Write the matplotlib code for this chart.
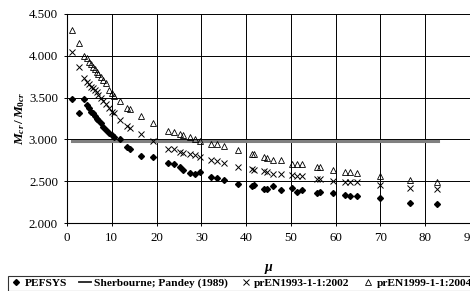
import matplotlib
matplotlib.use("Agg")
import matplotlib.pyplot as plt
from matplotlib.lines import Line2D

plt.rcParams['font.family'] = ['Liberation Serif', 'DejaVu Serif']
plt.rcParams['mathtext.fontset'] = 'custom'
plt.rcParams['mathtext.rm'] = 'Liberation Serif:bold'
plt.rcParams['mathtext.it'] = 'Liberation Serif:italic:bold'
plt.rcParams['mathtext.bf'] = 'Liberation Serif:bold'

mu = [1.1, 2.6, 3.7, 4.5, 5.0, 5.4, 5.8, 6.2, 6.6, 7.0, 7.5, 8.0, 8.6, 9.3, 10.0,
      10.5, 11.9, 13.4, 14.0, 16.5, 19.2, 22.6, 23.8, 25.3, 25.8, 27.5, 28.6, 29.7,
      32.1, 33.4, 35.1, 38.1, 41.3, 41.8, 43.9, 44.6, 46.1, 47.8, 50.2, 51.3, 52.4,
      55.8, 56.5, 59.5, 62.1, 63.2, 64.7, 69.9, 76.5, 82.7]

pefsys = [3.48, 3.31, 3.48, 3.41, 3.37, 3.33, 3.31, 3.28, 3.25, 3.23, 3.20, 3.15, 3.11,
          3.08, 3.05, 3.03, 3.00, 2.91, 2.89, 2.80, 2.79, 2.72, 2.71, 2.67, 2.63, 2.60,
          2.59, 2.61, 2.55, 2.54, 2.51, 2.47, 2.44, 2.45, 2.41, 2.41, 2.44, 2.39, 2.42,
          2.37, 2.39, 2.36, 2.37, 2.36, 2.33, 2.32, 2.32, 2.30, 2.24, 2.23]

en1993 = [4.04, 3.87, 3.73, 3.69, 3.66, 3.63, 3.61, 3.59, 3.57, 3.53, 3.49, 3.46, 3.42,
          3.38, 3.33, 3.31, 3.23, 3.16, 3.14, 3.06, 2.98, 2.89, 2.88, 2.85, 2.84, 2.83,
          2.81, 2.79, 2.75, 2.74, 2.72, 2.67, 2.64, 2.63, 2.62, 2.61, 2.59, 2.59, 2.57,
          2.56, 2.56, 2.53, 2.53, 2.50, 2.49, 2.49, 2.49, 2.46, 2.42, 2.41]

en1999 = [4.31, 4.15, 4.00, 3.97, 3.93, 3.90, 3.87, 3.84, 3.81, 3.78, 3.75, 3.71, 3.67,
          3.59, 3.55, 3.52, 3.46, 3.38, 3.36, 3.28, 3.20, 3.10, 3.09, 3.06, 3.05, 3.03,
          3.00, 2.98, 2.95, 2.94, 2.92, 2.87, 2.83, 2.82, 2.79, 2.78, 2.75, 2.75, 2.71,
          2.70, 2.70, 2.67, 2.67, 2.63, 2.61, 2.61, 2.60, 2.56, 2.52, 2.49]

sherb_mu = [1.1, 82.9]
sherb_val = [2.98, 2.98]

yticks = [2.0, 2.5, 3.0, 3.5, 4.0, 4.5]
ytick_labels = ['2.000', '2.500', '3.000', '3.500', '4.000', '4.500']
xticks = [0, 10, 20, 30, 40, 50, 60, 70, 80, 90]

W, H = 470, 291
fig = plt.figure(figsize=(W / 100, H / 100), dpi=100)
ax = fig.add_axes([67 / W, 68 / H, (470 - 67) / W, (223 - 14) / H])

ax.set_xlim(0, 90)
ax.set_ylim(2.0, 4.5)
ax.set_yticks(yticks)
ax.set_yticklabels(ytick_labels)
ax.set_xticks(xticks)

ax.grid(True, color='black', lw=0.7)
ax.set_axisbelow(True)
for s in ['top', 'right']:
    ax.spines[s].set_visible(False)
for s in ['left', 'bottom']:
    ax.spines[s].set_color('black')
    ax.spines[s].set_linewidth(0.8)

ax.tick_params(axis='both', direction='out', length=2.5, width=0.7,
               labelsize=9.3, pad=4, colors='black')

ax.plot(sherb_mu, sherb_val, color='#808080', lw=2.2, zorder=2)
ax.plot(mu, pefsys, linestyle='none', marker='D', ms=3.0, color='black', zorder=3)
ax.plot(mu, en1993, linestyle='none', marker='x', ms=4.5, mew=0.7, color='black', zorder=3)
ax.plot(mu, en1999, linestyle='none', marker='^', ms=4.3, mew=0.6, mfc='none',
        mec='black', zorder=3)

ax.set_ylabel(r'$M_{cr}\,/\,M_{0cr}$', fontsize=9.5, labelpad=1)
ax.set_xlabel('μ', fontsize=10, fontweight='bold', fontstyle='italic', labelpad=12)

handles = [
    Line2D([], [], linestyle='none', marker='D', ms=3.0, color='black'),
    Line2D([], [], color='#202020', lw=1.3),
    Line2D([], [], linestyle='none', marker='x', ms=4.5, mew=0.7, color='black'),
    Line2D([], [], linestyle='none', marker='^', ms=4.3, mew=0.6, mfc='none', mec='black'),
]
labels = ['PEFSYS', 'Sherbourne; Pandey (1989)', 'prEN1993-1-1:2002', 'prEN1999-1-1:2004']
leg = fig.legend(handles, labels, loc='upper left', bbox_to_anchor=(8 / W, 1 - 276 / H),
                 ncol=4, frameon=True, fancybox=False, edgecolor='black',
                 prop={'family': 'Liberation Serif', 'weight': 'bold', 'size': 8.2},
                 handlelength=1.0, handletextpad=0.25, columnspacing=1.1,
                 borderpad=0.2, borderaxespad=0)
leg.get_frame().set_linewidth(0.8)

fig.savefig('out.png', dpi=100)
